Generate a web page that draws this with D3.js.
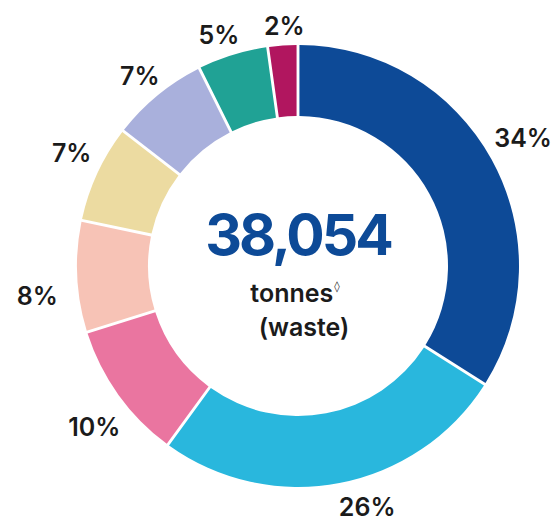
<!DOCTYPE html>
<html>
<head>
<meta charset="utf-8">
<script src="https://cdn.jsdelivr.net/npm/d3@7"></script>
<style>
  html, body { margin: 0; padding: 0; background: #ffffff; }
  svg { display: block; }
</style>
</head>
<body>
<div id="chart"></div>
<script>
// Waste breakdown by share (%), clockwise from 12 o'clock
const categories = ["A", "B", "C", "D", "E", "F", "G", "H"];
const shares = [34, 26, 10, 8, 7, 7, 5, 2];
const shareLabels = ["34%", "26%", "10%", "8%", "7%", "7%", "5%", "2%"];
const colors = ["#0d4a97", "#29b7dd", "#ea75a0", "#f7c3b6", "#ecdba1", "#a9b0dc", "#20a295", "#b1165f"];
const totalValue = "38,054";
const unitLine = "tonnes";
const unitMark = "\u25CA";
const subLine = "(waste)";

const W = 559, H = 523;
const cx = 298, cy = 266;
const outerR = 221, innerR = 150;
const labelR = 257;
// per-label nudges (px) from the centroid position on the label ring
const labelShift = [[0, -4], [21, -11], [5, 11], [-4, 18], [7, -5], [5, 9], [-3, 14], [4, 16]];

const svg = d3.select("#chart").append("svg")
  .attr("width", W).attr("height", H);

const g = svg.append("g").attr("transform", `translate(${cx},${cy})`);

const pie = d3.pie().value(d => d).sort(null).padAngle(0.013);
const arcs = pie(shares);

const arc = d3.arc().innerRadius(innerR).outerRadius(outerR).padRadius(outerR);
const labelArc = d3.arc().innerRadius(labelR).outerRadius(labelR);

g.selectAll("path.slice")
  .data(arcs)
  .join("path")
  .attr("class", "slice")
  .attr("d", arc)
  .attr("fill", (d, i) => colors[i]);

g.selectAll("text.pct")
  .data(arcs)
  .join("text")
  .attr("class", "pct")
  .attr("x", (d, i) => labelArc.centroid(d)[0] + labelShift[i][0])
  .attr("y", (d, i) => labelArc.centroid(d)[1] + labelShift[i][1])
  .attr("dy", "0.36em")
  .attr("text-anchor", "middle")
  .attr("font-family", "Inter, 'Noto Sans', sans-serif")
  .attr("font-weight", 600)
  .attr("font-size", 25)
  .attr("fill", "#1b1b1b")
  .text((d, i) => shareLabels[i]);

// centre text
g.append("text")
  .attr("x", 0).attr("y", -11)
  .attr("text-anchor", "middle")
  .attr("font-family", "Inter, 'Noto Sans', sans-serif")
  .attr("font-weight", 700)
  .attr("font-size", 57)
  .attr("letter-spacing", -3)
  .attr("fill", "#0d4a97")
  .text(totalValue);

const t2 = g.append("text")
  .attr("x", -3).attr("y", 36)
  .attr("text-anchor", "middle")
  .attr("font-family", "Inter, 'Noto Sans', sans-serif")
  .attr("font-weight", 600)
  .attr("font-size", 25)
  .attr("fill", "#1b1b1b");
t2.append("tspan").text(unitLine);
t2.append("tspan")
  .attr("font-size", 11)
  .attr("dy", -12)
  .attr("dx", 1)
  .attr("font-family", "'DejaVu Sans', sans-serif")
  .text(unitMark);

g.append("text")
  .attr("x", 6).attr("y", 70)
  .attr("text-anchor", "middle")
  .attr("font-family", "Inter, 'Noto Sans', sans-serif")
  .attr("font-weight", 600)
  .attr("font-size", 25)
  .attr("fill", "#1b1b1b")
  .text(subLine);
</script>
</body>
</html>
